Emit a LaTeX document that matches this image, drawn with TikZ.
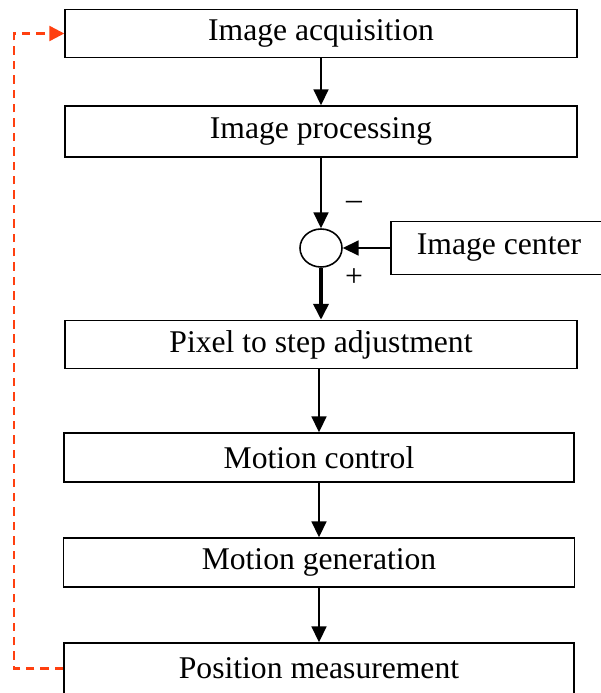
\documentclass[tikz,border=0pt]{standalone}
\usepackage{fontspec}
\setmainfont{Liberation Serif}
\usepackage{tikz}
\usetikzlibrary{arrows.meta,shapes.geometric}

\begin{document}
\begin{tikzpicture}[
  x=0.02cm,y=-0.02cm,
  >={Triangle[length=9pt,width=8.5pt]},
  font=\fontsize{18}{20}\selectfont,
  box/.style={draw, line width=0.9pt, inner sep=0pt, minimum width=10.24cm, minimum height=0.96cm},
  sumnode/.style={draw, ellipse, line width=0.9pt, inner sep=0pt, minimum width=0.84cm, minimum height=0.76cm},
  arrow/.style={->, line width=1.1pt},
  thickarrow/.style={->, line width=2pt},
  feedback/.style={-{Triangle[length=8.5pt,width=8.5pt]}, line width=1.4pt, color=fbred, dash pattern=on 4.8pt off 3.4pt},
  sign/.style={inner sep=0pt}
]
\definecolor{fbred}{RGB}{255,64,16}
\clip (0,0) rectangle (601,693);

% main chain of blocks
\node[box] (acq) at (321,33.5) {Image acquisition};
\node[box, minimum height=1.02cm] (proc) at (321,131.5) {Image processing};
\node[sumnode] (sum) at (321,248) {};
\node[box, minimum width=4.32cm, minimum height=1.06cm] (ctr) at (499,248) {Image center};
\node[box] (adj) at (321,344.5) {Pixel to step adjustment};
\node[box, minimum width=10.2cm, minimum height=0.98cm] (ctrl) at (319,457.5) {Motion control};
\node[box, minimum width=10.22cm, minimum height=0.98cm] (gen) at (319,562.5) {Motion generation};
\node[box, minimum width=10.2cm, minimum height=1.02cm] (meas) at (319,668.5) {Position measurement};

\node[sign] (minus) at (354,205) {--};
\node[sign] (plus) at (354,278) {+};

\draw[arrow] (acq.south) -- (proc.north);
\draw[arrow] (proc.south) -- (sum.north);
\draw[arrow] (ctr.west) -- (sum.east);
\draw[thickarrow] (sum.south) -- (adj.north);
\draw[arrow] (adj.south -| ctrl.north) -- (ctrl.north);
\draw[arrow] (ctrl.south) -- (gen.north);
\draw[arrow] (gen.south) -- (meas.north);

% feedback loop
\draw[feedback] (meas.west) -- ++(-49,0) |- (acq.west);
\end{tikzpicture}
\end{document}
